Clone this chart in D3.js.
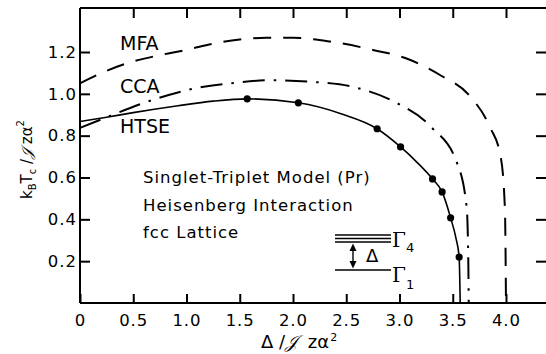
<!DOCTYPE html>
<head>
<meta charset="utf-8">
<title>Singlet-Triplet Tc</title>
<script src="https://cdn.jsdelivr.net/npm/d3@7"></script>
<style>
body { margin: 0; background: #fff; }
svg { display: block; }
.axis text { font: 16.5px "DejaVu Sans", sans-serif; letter-spacing: 1px; fill: #000; }
.axis path, .axis line { fill: none; stroke: #000; stroke-width: 2; }
.lbl { font-family: "DejaVu Sans", sans-serif; fill: #000; }
</style>
</head>
<body>
<script>
// tick values
var xTicks = [0, 0.5, 1.0, 1.5, 2.0, 2.5, 3.0, 3.5, 4.0];
var yTicks = [0.2, 0.4, 0.6, 0.8, 1.0, 1.2];

// MFA (dashed)
var mfaX = [0, 0.25, 0.5, 0.75, 1.0, 1.25, 1.5, 1.75, 2.0, 2.35, 2.75, 3.06, 3.38, 3.66, 3.85, 3.95, 3.99, 4.0];
var mfaY = [1.05, 1.11, 1.155, 1.185, 1.21, 1.24, 1.26, 1.268, 1.268, 1.25, 1.21, 1.17, 1.09, 0.99, 0.84, 0.70, 0.45, 0];

// CCA (dash-dot)
var ccaX = [0, 0.235, 0.63, 1.06, 1.41, 1.8, 2.19, 2.59, 2.96, 3.30, 3.54, 3.63, 3.645, 3.65];
var ccaY = [0.837, 0.885, 0.962, 1.024, 1.05, 1.065, 1.057, 1.03, 0.96, 0.84, 0.67, 0.46, 0.24, 0];

// HTSE (solid curve)
var htseX = [0, 0.25, 0.5, 0.92, 1.25, 1.57, 2.05, 2.45, 2.79, 3.01, 3.16, 3.31, 3.40, 3.48, 3.53, 3.56, 3.57];
var htseY = [0.868, 0.888, 0.91, 0.943, 0.965, 0.976, 0.957, 0.905, 0.833, 0.746, 0.675, 0.593, 0.531, 0.407, 0.31, 0.22, 0];

// HTSE computed points (dots)
var dotX = [1.57, 2.05, 2.79, 3.01, 3.31, 3.40, 3.48, 3.56];
var dotY = [0.976, 0.957, 0.833, 0.746, 0.593, 0.531, 0.407, 0.22];

var width = 546, height = 354;
var pLeft = 80, pBottom = 303, pTop = 8, pRight = 547;

var svg = d3.select("body").append("svg")
	.attr("width", width)
	.attr("height", height);

var x = d3.scaleLinear().domain([0, 4]).range([pLeft, 506]);
var y = d3.scaleLinear().domain([0, 1.2]).range([pBottom, 52]);

var fmt = function(d) { return d === 0 ? "0" : d.toFixed(1); };

// frame + axes, ticks pointing inward
svg.append("g").attr("class", "axis")
	.attr("transform", "translate(0," + pBottom + ")")
	.call(d3.axisBottom(x).tickValues(xTicks).tickFormat(fmt).tickSize(-9).tickSizeOuter(0).tickPadding(11))
	.select(".domain").attr("d", "M" + pLeft + ",0H" + pRight);

svg.append("g").attr("class", "axis")
	.attr("transform", "translate(" + pLeft + ",0)")
	.call(d3.axisLeft(y).tickValues(yTicks).tickFormat(fmt).tickSize(-10).tickSizeOuter(0).tickPadding(3))
	.select(".domain").attr("d", "M0," + pBottom + "V" + pTop);

svg.append("g").attr("class", "axis")
	.attr("transform", "translate(0," + pTop + ")")
	.call(d3.axisTop(x).tickValues(xTicks.slice(1)).tickFormat("").tickSize(-10).tickSizeOuter(0))
	.select(".domain").attr("d", "M" + pLeft + ",0H" + pRight);

svg.append("g").attr("class", "axis")
	.attr("transform", "translate(546,0)")
	.call(d3.axisRight(y).tickValues(yTicks).tickFormat("").tickSize(-10).tickSizeOuter(0))
	.select(".domain").remove();

// curves
var line = d3.line()
	.x(function(d) { return x(d[0]); })
	.y(function(d) { return y(d[1]); })
	.curve(d3.curveMonotoneX);

function pairs(xs, ys) { return xs.map(function(v, i) { return [v, ys[i]]; }); }

svg.append("path").datum(pairs(mfaX, mfaY))
	.attr("d", line).attr("fill", "none").attr("stroke", "#000")
	.attr("stroke-width", 2).attr("stroke-dasharray", "18,12");

svg.append("path").datum(pairs(ccaX, ccaY))
	.attr("d", line).attr("fill", "none").attr("stroke", "#000")
	.attr("stroke-width", 2).attr("stroke-dasharray", "22,9,2.5,9");

svg.append("path").datum(pairs(htseX, htseY))
	.attr("d", line).attr("fill", "none").attr("stroke", "#000")
	.attr("stroke-width", 1.6);

svg.selectAll("circle.pt").data(pairs(dotX, dotY)).enter()
	.append("circle").attr("class", "pt")
	.attr("cx", function(d) { return x(d[0]); })
	.attr("cy", function(d) { return y(d[1]); })
	.attr("r", 3.6).attr("fill", "#000");

// curve names
svg.append("text").attr("class", "lbl").attr("x", 120).attr("y", 50).style("font-size", "19px").text("MFA");
svg.append("text").attr("class", "lbl").attr("x", 120).attr("y", 93).style("font-size", "19px").text("CCA");
svg.append("text").attr("class", "lbl").attr("x", 120).attr("y", 133).style("font-size", "19px").text("HTSE");

// model description
var notes = ["Singlet-Triplet Model (Pr)", "Heisenberg Interaction", "fcc Lattice"];
svg.selectAll("text.note").data(notes).enter()
	.append("text").attr("class", "lbl note")
	.attr("x", 143).attr("y", function(d, i) { return 183 + i * 27.5; })
	.style("font-size", "16.5px").style("letter-spacing", "1px")
	.text(function(d) { return d; });

// level scheme
var lv = svg.append("g");
[235, 238.5, 242].forEach(function(yy) {
	lv.append("line").attr("x1", 335).attr("x2", 391).attr("y1", yy).attr("y2", yy)
		.attr("stroke", "#000").attr("stroke-width", 1.3);
});
lv.append("line").attr("x1", 335).attr("x2", 391).attr("y1", 270).attr("y2", 270)
	.attr("stroke", "#000").attr("stroke-width", 1.6);
lv.append("line").attr("x1", 353).attr("x2", 353).attr("y1", 246).attr("y2", 266)
	.attr("stroke", "#000").attr("stroke-width", 1.4);
lv.append("path").attr("d", "M349.5,251L353,243.5L356.5,251Z");
lv.append("path").attr("d", "M349.5,261L353,268.5L356.5,261Z");
lv.append("text").attr("class", "lbl").attr("x", 366).attr("y", 262).style("font-size", "18px").text("Δ");
var g4 = lv.append("text").attr("x", 392).attr("y", 247)
	.style("font-family", "'DejaVu Serif', serif").style("font-size", "20px");
g4.append("tspan").text("Γ");
g4.append("tspan").attr("dy", 5).style("font-size", "13px").style("font-family", "'DejaVu Sans', sans-serif").text("4");
var g1 = lv.append("text").attr("x", 392).attr("y", 282)
	.style("font-family", "'DejaVu Serif', serif").style("font-size", "20px");
g1.append("tspan").text("Γ");
g1.append("tspan").attr("dy", 7).style("font-size", "13px").style("font-family", "'DejaVu Sans', sans-serif").text("1");

// x axis title
var xt = svg.append("text").attr("class", "lbl").attr("x", 261).attr("y", 348).style("font-size", "18px");
xt.append("tspan").text("Δ /");
xt.append("tspan").style("font-style", "italic").text("𝒥");
xt.append("tspan").attr("dx", 5).text(" zα");
xt.append("tspan").attr("dx", 1).attr("dy", -7).style("font-size", "11px").text("2");

// y axis title
var yt = svg.append("text").attr("class", "lbl")
	.attr("transform", "translate(32,199) rotate(-90)").style("font-size", "15px");
yt.append("tspan").text("k");
yt.append("tspan").attr("dy", 4).style("font-size", "10px").text("B");
yt.append("tspan").attr("dy", -4).text("T");
yt.append("tspan").attr("dy", 4).style("font-size", "10px").text("c");
yt.append("tspan").attr("dy", -4).text(" /");
yt.append("tspan").style("font-style", "italic").text("𝒥");
yt.append("tspan").text(" zα");
yt.append("tspan").attr("dy", -8).style("font-size", "10px").text("2");
</script>
</body>
